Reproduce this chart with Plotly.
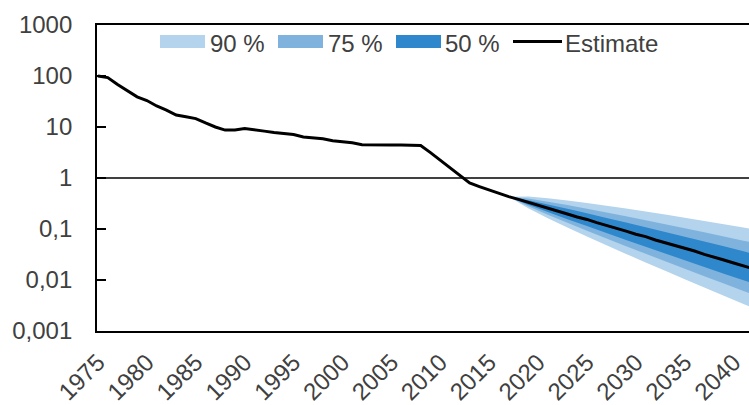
import plotly.graph_objects as go

# ---------------- data ----------------
hist_years = list(range(1975, 2018))
hist_values = [100, 93, 68, 51, 39, 33, 25.8, 21.5, 17.2, 15.9, 14.6, 12.0, 10.0, 8.7, 8.7,
               9.3, 8.9, 8.3, 7.8, 7.45, 7.1, 6.35, 6.15, 5.87, 5.4, 5.2, 4.9, 4.5, 4.43,
               4.43, 4.43, 4.43, 4.43, 4.34, 3.15, 2.22, 1.57, 1.11, 0.80, 0.68, 0.58, 0.50, 0.43]

fc_years = list(range(2017, 2043))
fc_median = [0.43, 0.38, 0.335, 0.29, 0.258, 0.222, 0.197, 0.172, 0.154, 0.133,
             0.118, 0.102, 0.091, 0.079, 0.071, 0.061, 0.054, 0.048, 0.0418, 0.037,
             0.0318, 0.0283, 0.0246, 0.0216, 0.019, 0.0166]

band_years = list(range(2017, 2044, 2))
lo90 = [0.43, 0.254, 0.163, 0.107, 0.0714, 0.0479, 0.0325, 0.0221, 0.0151, 0.0103, 0.00712, 0.00491, 0.0034, 0.00235]
hi90 = [0.43, 0.433, 0.401, 0.362, 0.324, 0.287, 0.252, 0.220, 0.192, 0.166, 0.144, 0.124, 0.107, 0.0915]
lo75 = [0.43, 0.278, 0.190, 0.132, 0.0924, 0.0651, 0.0461, 0.0327, 0.0233, 0.0166, 0.0119, 0.00853, 0.00612, 0.0044]
hi75 = [0.43, 0.395, 0.344, 0.294, 0.250, 0.211, 0.177, 0.149, 0.124, 0.103, 0.086, 0.0714, 0.0591, 0.0489]
lo50 = [0.43, 0.299, 0.215, 0.156, 0.114, 0.0833, 0.0611, 0.045, 0.0331, 0.0244, 0.018, 0.0133, 0.00986, 0.00758]
hi50 = [0.43, 0.367, 0.303, 0.249, 0.203, 0.165, 0.134, 0.108, 0.0874, 0.0705, 0.0568, 0.0457, 0.0367, 0.0284]

x_tick_vals = list(range(1975, 2041, 5))
x_tick_text = [str(v) for v in x_tick_vals]
y_tick_vals = [1000, 100, 10, 1, 0.1, 0.01, 0.001]
y_tick_text = ["1000", "100", "10", "1", "0,1", "0,01", "0,001"]

band_labels = ["90 %", "75 %", "50 %"]
band_colors = ["#B3D4EC", "#7FB3DE", "#2F87CC"]
line_label = "Estimate"

FONT = "Liberation Sans, Arial, sans-serif"
TXT = "#404040"
FS = 24

fig = go.Figure()

bands = [(lo90, hi90), (lo75, hi75), (lo50, hi50)]
for (lo, hi), col, name in zip(bands, band_colors, band_labels):
    fig.add_trace(go.Scatter(x=band_years + band_years[::-1], y=hi + lo[::-1],
                             fill="toself", fillcolor=col, mode="none",
                             line=dict(width=0), name=name, showlegend=False,
                             hoverinfo="skip"))

fig.add_trace(go.Scatter(x=hist_years + fc_years[1:], y=hist_values + fc_median[1:],
                         mode="lines", line=dict(color="#000000", width=3),
                         name=line_label, showlegend=False))

# manual legend (paper coords of plot area: x 97..749, y 25..331)
def px_x(p):
    return (p - 97) / 652.0

def px_y(p):
    return (331 - p) / 306.0

shapes = []
annotations = []
rect_x = [160, 278, 396]
text_x = [208, 326, 443]
for rx, tx, col, name in zip(rect_x, text_x, band_colors, band_labels):
    shapes.append(dict(type="rect", xref="paper", yref="paper",
                       x0=px_x(rx), x1=px_x(rx + 45), y0=px_y(48), y1=px_y(35),
                       fillcolor=col, line=dict(width=0)))
    annotations.append(dict(xref="paper", yref="paper", x=px_x(tx), y=px_y(43.5),
                            xanchor="left", yanchor="middle", text=name, showarrow=False,
                            font=dict(family=FONT, size=FS, color=TXT)))
shapes.append(dict(type="line", xref="paper", yref="paper", x0=px_x(513), x1=px_x(562),
                   y0=px_y(41.5), y1=px_y(41.5), line=dict(color="#000000", width=3)))
annotations.append(dict(xref="paper", yref="paper", x=px_x(563), y=px_y(43.5),
                        xanchor="left", yanchor="middle", text=line_label, showarrow=False,
                        font=dict(family=FONT, size=FS, color=TXT)))

# horizontal line at value 1 (middle of the log range -3..3)
shapes.append(dict(type="line", xref="paper", yref="paper", x0=0, x1=1, y0=0.5, y1=0.5,
                   line=dict(color="#000000", width=1.5), layer="below"))

fig.update_layout(
    width=749, height=405,
    margin=dict(l=97, r=0, t=25, b=74, autoexpand=False),
    paper_bgcolor="white", plot_bgcolor="white",
    shapes=shapes, annotations=annotations,
    showlegend=False,
    font=dict(family=FONT, size=FS, color=TXT),
)
fig.update_xaxes(range=[1974.9, 2041.57], tickvals=x_tick_vals, ticktext=x_tick_text,
                 tickangle=-45, ticks="", showgrid=False, zeroline=False, automargin=False,
                 showline=True, mirror=True, linecolor="#000000", linewidth=1.5,
                 ticklabelstandoff=6, tickfont=dict(family=FONT, size=FS, color=TXT))
fig.update_yaxes(type="log", range=[-3, 3], tickvals=y_tick_vals, ticktext=y_tick_text,
                 ticks="inside", ticklen=9, tickwidth=1.5, tickcolor="#000000", automargin=False,
                 showgrid=False, zeroline=False, showline=True, linecolor="#000000",
                 linewidth=1.8, ticklabelstandoff=18,
                 tickfont=dict(family=FONT, size=FS, color=TXT))

fig.write_html("out.html", config={"displayModeBar": False},
               post_script="document.body.style.margin='0px';document.body.style.overflow='hidden';")
